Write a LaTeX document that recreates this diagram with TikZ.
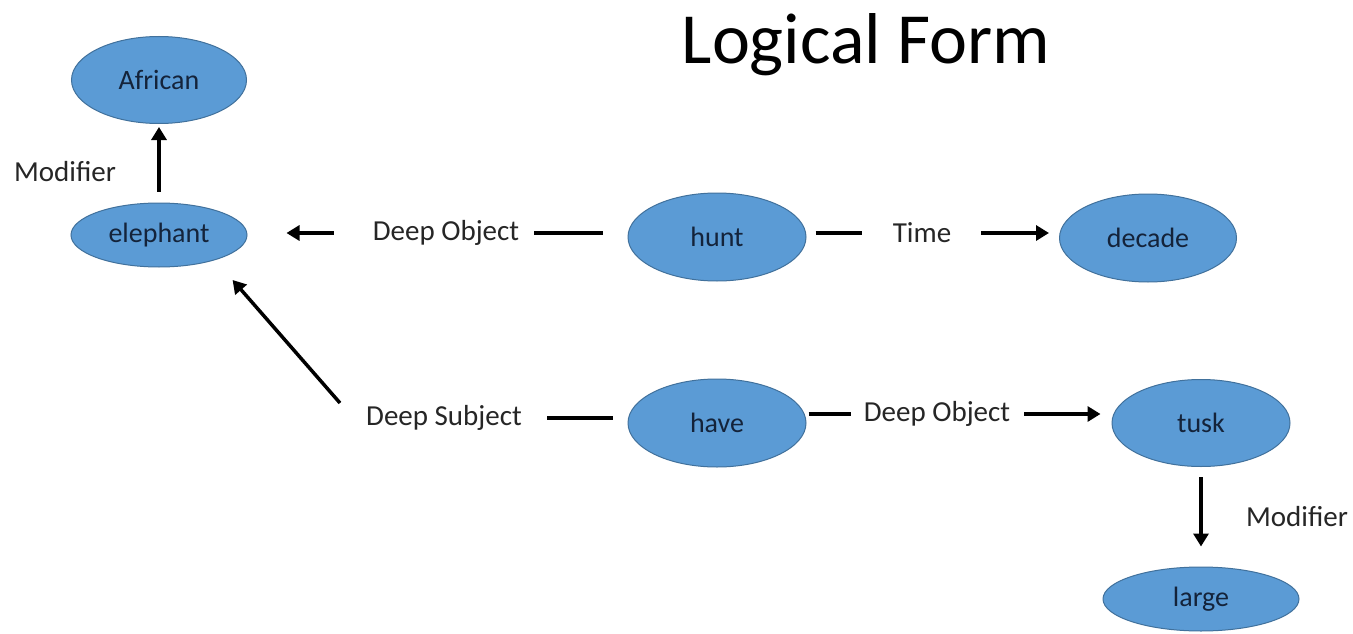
\documentclass[tikz,border=0pt]{standalone}
\usepackage{fontspec}
\setmainfont{Carlito}
\usetikzlibrary{shapes.geometric,arrows.meta}
\definecolor{nodefill}{HTML}{5B9BD5}
\definecolor{nodeline}{HTML}{41719C}
\definecolor{nodetext}{HTML}{14233A}
\definecolor{labeltext}{HTML}{262626}
\begin{document}
\begin{tikzpicture}[x=1pt,y=-1pt,
  concept/.style={ellipse, draw=nodeline, line width=1pt, fill=nodefill,
    inner sep=0pt, text=nodetext, font=\fontsize{28}{32}\selectfont},
  rel/.style={text=labeltext, font=\fontsize{29}{34}\selectfont, inner sep=0pt},
  link/.style={line width=3.5pt, draw=black},
  arrowlink/.style={link, -{Triangle[width=15pt,length=13pt]}}]
\useasboundingbox (0,0) rectangle (1353,634);
\fill[white] (0,0) rectangle (1353,634);

% title
\node[text=black, font=\fontsize{72}{80}\selectfont, inner sep=0pt] (title) at (866,45) {Logical Form};

% concepts
\node[concept, minimum width=175, minimum height=87] (african)  at (159,80)   {African};
\node[concept, minimum width=176, minimum height=64] (elephant) at (159,235)  {elephant};
\node[concept, minimum width=178, minimum height=88] (hunt)     at (717,237)  {hunt};
\node[concept, minimum width=177, minimum height=88] (decade)   at (1148,238) {decade};
\node[concept, minimum width=178, minimum height=88] (have)     at (717,423)  {have};
\node[concept, minimum width=178, minimum height=87] (tusk)     at (1201,423) {tusk};
\node[concept, minimum width=196, minimum height=64] (large)    at (1201,599) {large};

% relation labels
\node[rel] (modA) at (65,172)   {Modifier};
\node[rel] (objA) at (446,233)  {Deep Object};
\node[rel] (time) at (922,233)  {Time};
\node[rel] (subj) at (444,418)  {Deep Subject};
\node[rel] (objB) at (937,414)  {Deep Object};
\node[rel] (modB) at (1297,517) {Modifier};

% elephant is modified by African
\draw[arrowlink, shorten <=11, shorten >=3] (elephant) -- (african);

% hunt: deep object elephant
\draw[link, shorten <=25, shorten >=15] (hunt.west |- objA) -- (objA.east);
\draw[arrowlink, shorten <=39, shorten >=39] (objA.west) -- (objA.west -| elephant.east);

% hunt: time decade
\draw[link, shorten <=9, shorten >=31] (hunt.east |- time) -- (time.west);
\draw[arrowlink, shorten <=30, shorten >=10] (time.east) -- (time.east -| decade.west);

% have: deep subject elephant
\draw[link, shorten <=15, shorten >=25] (have.west |- subj) -- (subj.east);
\draw[arrowlink] ([shift={(-26,-15)}]subj.west) -- ([shift={(11,22)}]elephant.south east);

% have: deep object tusk
\draw[link, shorten <=2, shorten >=13] (have.east |- objB) -- (objB.west);
\draw[arrowlink, shorten <=14, shorten >=11] (objB.east) -- (objB.east -| tusk.west);

% tusk is modified by large
\draw[arrowlink, shorten <=10, shorten >=20] (tusk) -- (large);
\end{tikzpicture}
\end{document}
